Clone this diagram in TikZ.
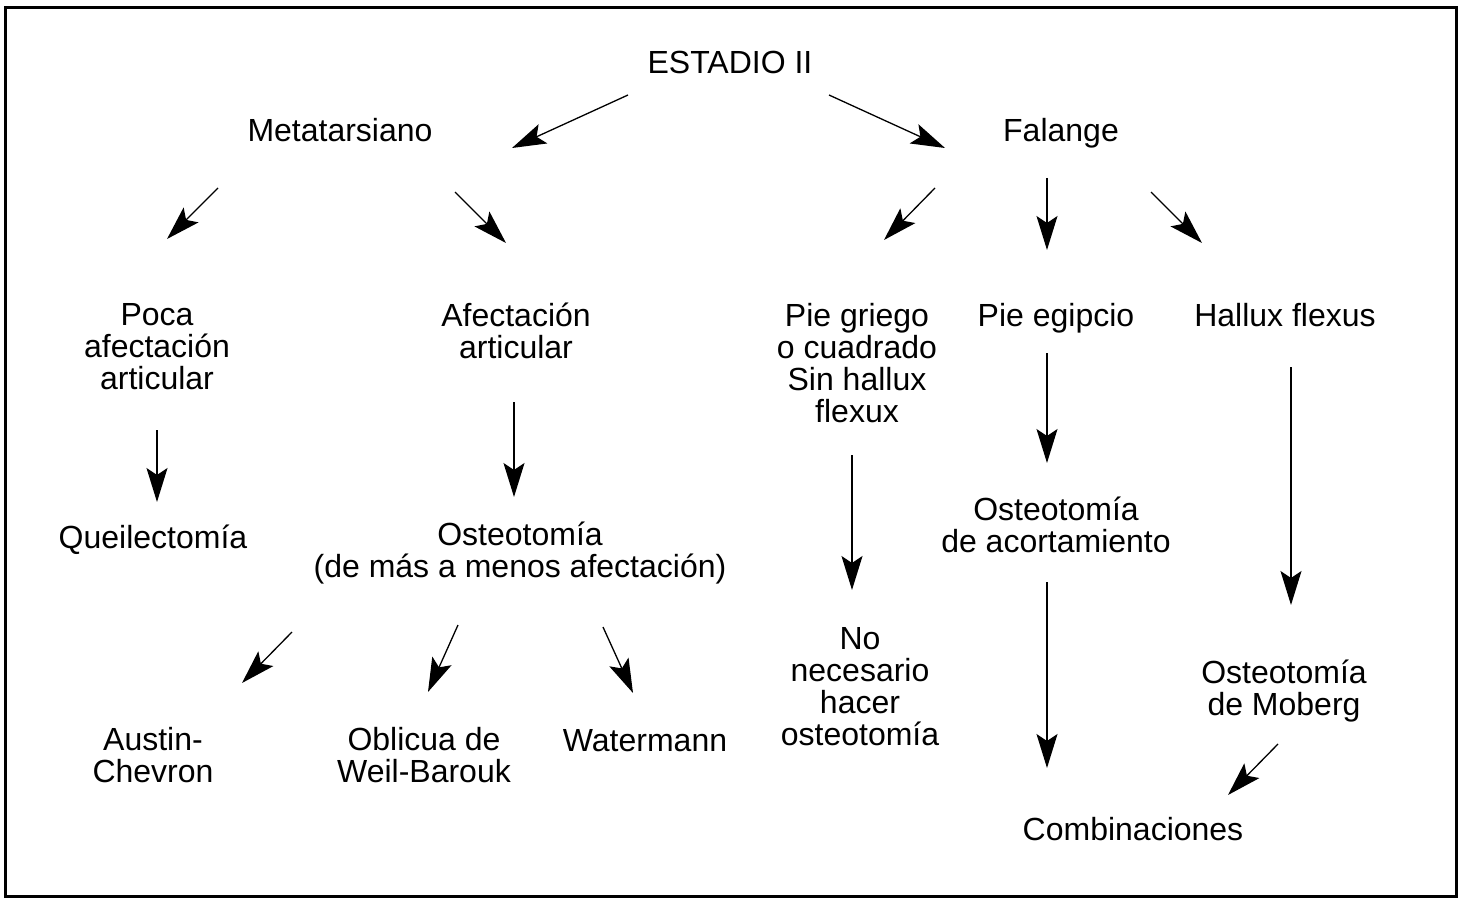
\documentclass[tikz,border=0pt]{standalone}
\usepackage{fontspec}
\setmainfont{Liberation Sans}
\usetikzlibrary{arrows.meta,calc}
\begin{document}
\begin{tikzpicture}[x=1pt,y=-1pt,
  lbl/.style={align=center,inner sep=0pt,font=\fontsize{32}{32}\selectfont},
  one/.style={lbl,text height=26.5pt,text depth=3.6pt},
  arr/.style={line width=1.3pt,-{Stealth[length=34pt,width=21pt,inset=7pt]}}]
\useasboundingbox (0,0) rectangle (1465,904);
\draw[line width=3pt] (5,8) rectangle (1456,896);
\node[one] (est) at (730,62) {ESTADIO II};
\node[one] (met) at (340,130) {Metatarsiano};
\node[one] (fal) at (1061,130) {Falange};
\node[lbl] (poca) at (157,347) {Poca\\afectación\\articular};
\node[lbl] (afe) at (516,331) {Afectación\\articular};
\node[lbl] (grie) at (857,363) {Pie griego\\o cuadrado\\Sin hallux\\flexux};
\node[one] (egi) at (1056,315) {Pie egipcio};
\node[one] (hal) at (1285,315) {Hallux flexus};
\node[one] (que) at (153,537) {Queilectomía};
\node[lbl] (ost) at (520,553) {Osteotomía\\(de más a menos afectación)};
\node[lbl] (acor) at (1056,525) {Osteotomía\\de acortamiento};
\node[lbl] (nonec) at (860,687) {No\\necesario\\hacer\\osteotomía};
\node[lbl] (mob) at (1284,691) {Osteotomía\\de Moberg};
\node[lbl] (aus) at (153,755) {Austin-\\Chevron};
\node[lbl] (obl) at (424,755) {Oblicua de\\Weil-Barouk};
\node[one] (wat) at (645,740) {Watermann};
\node[one] (com) at (1133,829) {Combinaciones};
\draw[arr] ($(est)+(-102,33)$) -- ($(met)+(172,18)$);
\draw[arr] ($(est)+(99,33)$) -- ($(fal)+(-116,18)$);
\draw[arr] ($(met)+(-122,58)$) -- ($(poca)+(10,-108)$);
\draw[arr] ($(met)+(115,62)$) -- ($(afe)+(-10,-88)$);
\draw[arr] ($(fal)+(-126,58)$) -- ($(grie)+(27,-123)$);
\draw[arr] ($(fal)+(-14,48)$) -- ($(egi)+(-9,-65)$);
\draw[arr] ($(fal)+(90,62)$) -- ($(hal)+(-83,-72)$);
\draw[arr] ($(poca)+(0,83)$) -- ($(que)+(4,-35)$);
\draw[arr] ($(afe)+(-2,71)$) -- ($(ost)+(-6,-56)$);
\draw[arr] ($(grie)+(-5,92)$) -- ($(nonec)+(-8,-97)$);
\draw[arr] ($(egi)+(-9,38)$) -- ($(acor)+(-9,-62)$);
\draw[arr] ($(hal)+(6,52)$) -- ($(mob)+(7,-86)$);
\draw[arr] ($(ost)+(-228,79)$) -- ($(aus)+(89,-72)$);
\draw[arr] ($(ost)+(-62,72)$) -- ($(obl)+(4,-63)$);
\draw[arr] ($(ost)+(83,74)$) -- ($(wat)+(-12,-47)$);
\draw[arr] ($(acor)+(-9,57)$) -- ($(com)+(-86,-61)$);
\draw[arr] ($(mob)+(-6,53)$) -- ($(com)+(95,-34)$);
\end{tikzpicture}
\end{document}
